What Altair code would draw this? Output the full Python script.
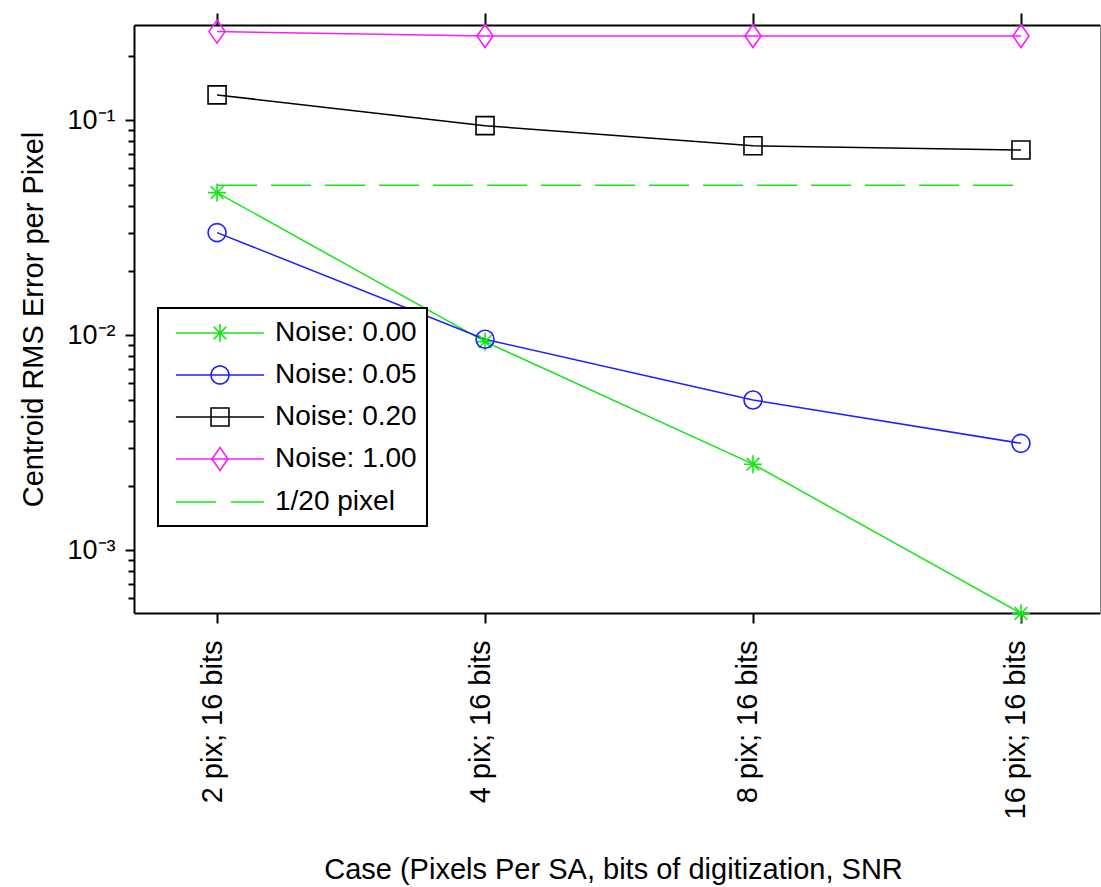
import json
import altair as alt
import pandas as pd

# ---------------- data ----------------
cases = ["2 pix; 16 bits", "4 pix; 16 bits", "8 pix; 16 bits", "16 pix; 16 bits"]
case_pos = [0, 1, 2, 3]

series_names = ["Noise: 0.00", "Noise: 0.05", "Noise: 0.20", "Noise: 1.00"]
noise_000 = [0.0462, 0.00936, 0.00252, 0.00051]
noise_005 = [0.0301, 0.0096, 0.00501, 0.00315]
noise_020 = [0.1315, 0.0946, 0.0763, 0.0729]
noise_100 = [0.259, 0.247, 0.247, 0.247]
series_values = [noise_000, noise_005, noise_020, noise_100]

threshold_name = "1/20 pixel"
threshold_values = [0.05, 0.05, 0.05, 0.05]

y_major = [0.001, 0.01, 0.1]
y_major_labels = ["10⁻³", "10⁻²", "10⁻¹"]
y_minor = [0.0006, 0.0007, 0.0008, 0.0009,
           0.002, 0.003, 0.004, 0.005, 0.006, 0.007, 0.008, 0.009,
           0.02, 0.03, 0.04, 0.05, 0.06, 0.07, 0.08, 0.09,
           0.2]

series_colors = ["#14e614", "#1f1fff", "#000000", "#ff1aff"]
threshold_color = "#14e614"

# marker shapes (unit square -1..1)
marker_paths = [
    "M-0.75,0H0.75M0,-0.75V0.75M-0.53,-0.53L0.53,0.53M-0.53,0.53L0.53,-0.53",
    "M0.75,0A0.75,0.75,0,1,1,-0.75,0A0.75,0.75,0,1,1,0.75,0Z",
    "M-0.75,-0.75H0.75V0.75H-0.75Z",
    "M0,-0.96L0.67,0L0,0.96L-0.67,0Z",
]
legend_paths = [
    "M-3.15,0H3.15M0,-0.64V0.64M-0.45,-0.45L0.45,0.45M-0.45,0.45L0.45,-0.45",
    "M-3.15,0H3.15M0.64,0A0.64,0.64,0,1,1,-0.64,0A0.64,0.64,0,1,1,0.64,0Z",
    "M-3.15,0H3.15M-0.64,-0.64H0.64V0.64H-0.64Z",
    "M-3.15,0H3.15M0,-0.82L0.57,0L0,0.82L-0.57,0Z",
    "M-3.15,0H3.15",
]

rows = []
for name, vals in zip(series_names, series_values):
    for c, v in zip(case_pos, vals):
        rows.append({"case": c, "value": v, "series": name})
df = pd.DataFrame(rows)
thr_df = pd.DataFrame({"case": case_pos, "value": threshold_values})

legend_names = series_names + [threshold_name]
legend_colors = series_colors + [threshold_color]
legend_dashes = [[1, 0], [1, 0], [1, 0], [1, 0], [40, 15]]
leg_df = pd.DataFrame({"series": legend_names, "case": 0, "value": 0.01})

# ---------------- scales / axes ----------------
FONT = "Liberation Sans"
x_scale = alt.Scale(domain=[-0.31, 3.295], nice=False, zero=False)
y_scale = alt.Scale(type="log", domain=[0.000512, 0.278], nice=False)

x_label_expr = json.dumps(cases) + "[round(datum.value)]"
y_label_expr = json.dumps(y_major_labels) + "[round(log(datum.value)/LN10) + 3]"

x_axis_bottom = alt.Axis(
    orient="bottom", values=case_pos, labelExpr=x_label_expr,
    labelAngle=270, labelAlign="right", labelBaseline="middle",
    labelPadding=17, labelOffset=-5, labelFlush=False, labelOverlap=False,
    labelFontSize=29, tickSize=10, tickWidth=2, tickColor="black",
    domainColor="black", domainWidth=2, grid=False,
    title="Case (Pixels Per SA, bits of digitization, SNR",
    titleX=479, titleY=265, titleAlign="center", titleBaseline="alphabetic",
    titleAngle=0, titleFontSize=29,
)
x_axis_top = alt.Axis(
    orient="top", values=case_pos, labels=False, tickSize=12, tickWidth=2,
    tickColor="black", domainColor="black", domainWidth=2, grid=False, title=None,
)
y_axis_major = alt.Axis(
    orient="left", values=y_major, labelExpr=y_label_expr, labelFontSize=27,
    labelPadding=10, labelFlush=False, labelOverlap=False, labelBaseline="middle",
    tickSize=9, tickWidth=2, tickColor="black", domainColor="black", domainWidth=2,
    grid=False, title="Centroid RMS Error per Pixel", titleAngle=270,
    titleX=-92, titleY=294, titleAlign="center", titleBaseline="alphabetic",
    titleFontSize=29,
)
y_axis_minor = alt.Axis(
    orient="left", values=y_minor, labels=False, tickSize=6, tickWidth=2,
    tickColor="black", domain=False, grid=False, title=None,
)
y_axis_right = alt.Axis(
    orient="right", ticks=False, labels=False, domainColor="#808080",
    domainWidth=1, grid=False, title=None,
)

leg = alt.Legend(
    title=None, orient="none", legendX=24, legendY=283, direction="vertical",
    padding=10, strokeColor="black", fillColor="white",
    symbolSize=784, symbolStrokeWidth=1.6, symbolOffset=37,
    labelOffset=40, labelFontSize=28, labelFont=FONT, labelColor="black",
    labelBaseline="middle", labelLimit=400, rowPadding=13,
)

color_enc = alt.Color("series:N", scale=alt.Scale(domain=series_names, range=series_colors), legend=None)

lines = alt.Chart(df).mark_line(strokeWidth=1.5).encode(
    x=alt.X("case:Q", scale=x_scale, axis=x_axis_bottom),
    y=alt.Y("value:Q", scale=y_scale, axis=y_axis_major),
    color=color_enc,
)

points = alt.Chart(df).mark_point(filled=False, size=576, strokeWidth=1.6, opacity=1).encode(
    x=alt.X("case:Q", scale=x_scale, axis=x_axis_top),
    y=alt.Y("value:Q", scale=y_scale, axis=y_axis_minor),
    color=color_enc,
    shape=alt.Shape("series:N", scale=alt.Scale(domain=series_names, range=marker_paths), legend=None),
)

thr = alt.Chart(thr_df).mark_line(strokeDash=[40, 14], strokeWidth=1.5, color=threshold_color).encode(
    x=alt.X("case:Q", scale=x_scale, axis=None),
    y=alt.Y("value:Q", scale=y_scale, axis=y_axis_right),
)

legend_layer = alt.Chart(leg_df).transform_filter("false").mark_point(
    filled=False, size=784, strokeWidth=1.6, opacity=1
).encode(
    x=alt.X("case:Q", scale=x_scale, axis=None),
    y=alt.Y("value:Q", scale=y_scale, axis=None),
    color=alt.Color("series:N", scale=alt.Scale(domain=legend_names, range=legend_colors), legend=leg),
    shape=alt.Shape("series:N", scale=alt.Scale(domain=legend_names, range=legend_paths), legend=leg),
    strokeDash=alt.StrokeDash("series:N", scale=alt.Scale(domain=legend_names, range=legend_dashes), legend=leg),
)

chart = (
    alt.layer(thr, lines, points, legend_layer)
    .resolve_scale(color="independent", shape="independent", strokeDash="independent")
    .resolve_axis(x="independent", y="independent")
    .properties(
        width=966, height=588, autosize="none",
        padding={"left": 134, "top": 25, "right": 1, "bottom": 274},
        background="white",
    )
    .configure_view(strokeWidth=0)
    .configure_axis(labelFont=FONT, titleFont=FONT, labelColor="black",
                    titleColor="black", titleFontWeight="normal")
    .configure_legend(strokeWidth=2)
)

chart.save("out.html", embed_options={"renderer": "svg", "actions": False})
